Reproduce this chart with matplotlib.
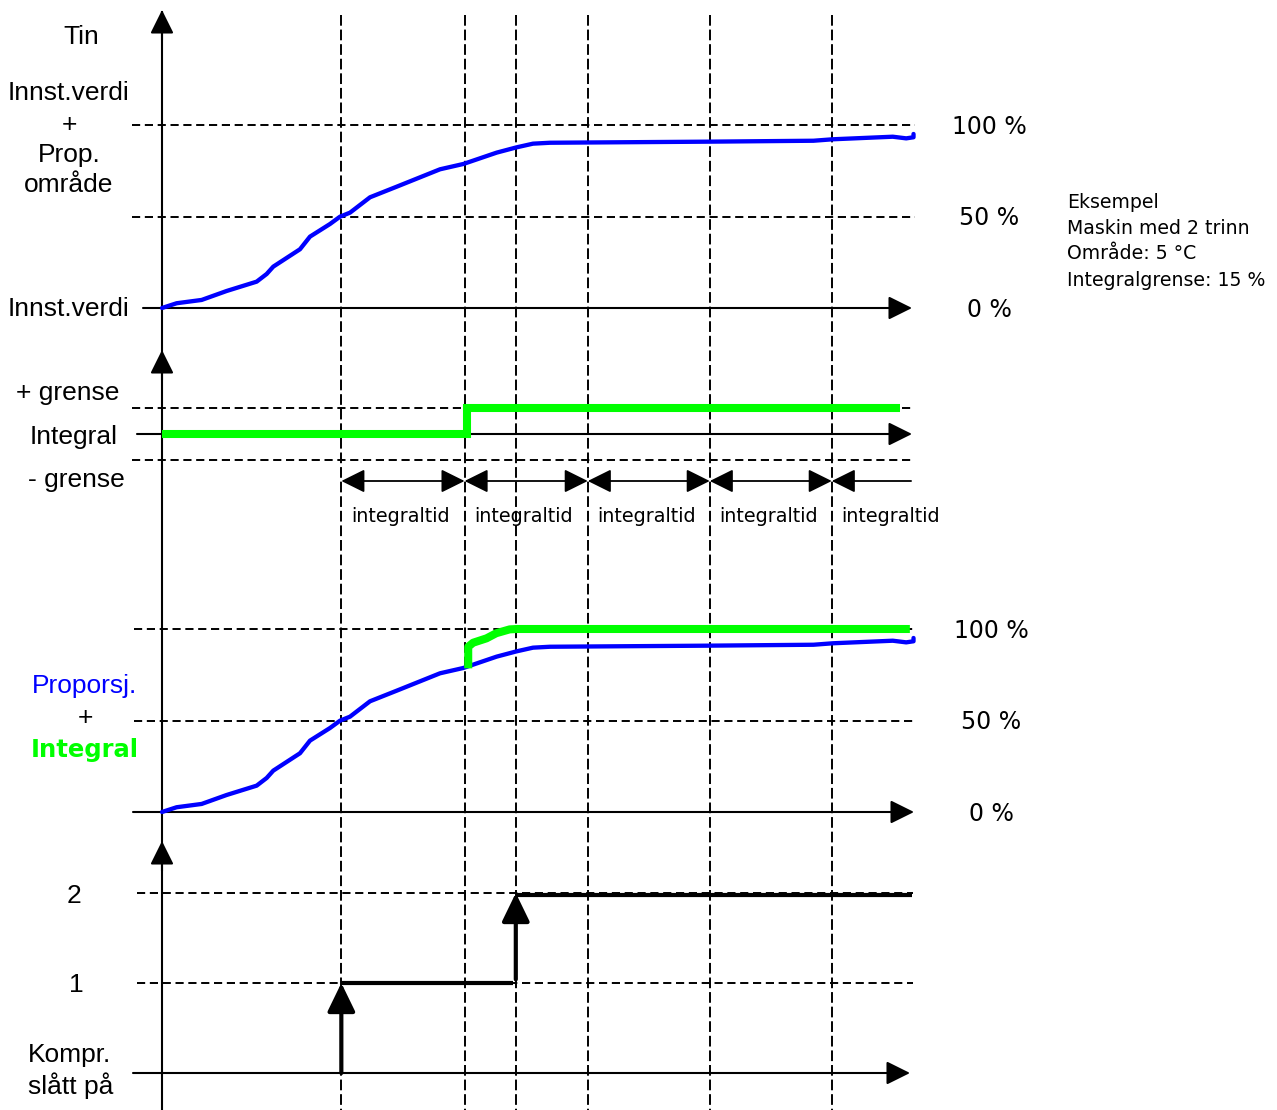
import matplotlib
matplotlib.use('Agg')
import matplotlib.pyplot as plt

# ---------------- data ----------------
# time axis: arbitrary units (1 integral time = 10 units)
marker_times = [14.7, 24.8, 29.0, 34.9, 44.9, 54.9]        # vertical dashed lines
integral_marks = [14.7, 24.8, 34.9, 44.9, 54.9]            # starts of integral periods
integral_last_end = 61.3
integral_label = "integraltid"

# proportional part (% of band) vs time
prop_t = [0.0, 1.2, 3.25, 5.3, 7.76, 8.58, 9.12, 11.31, 12.13, 13.77, 14.59,
          15.41, 17.05, 19.24, 22.79, 24.7, 27.43, 29.07, 30.41, 31.8, 44.9,
          53.4, 55.0, 59.9, 61.0, 61.6, 61.6]
prop_pct = [0, 2.6, 4.4, 9.3, 14.4, 18.6, 22.6, 32.1, 39.0, 45.9, 49.9,
            52.1, 60.5, 66.3, 75.8, 78.7, 84.9, 87.8, 89.8, 90.3, 90.9,
            91.4, 92.2, 93.6, 92.7, 93.3, 95.1]

# integral part (%) vs time, limit +/-15 %
integ_t = [0.0, 25.0, 25.0, 60.5]
integ_val = [0, 0, 15, 15]
integ_limit = 15

# proportional + integral (%) vs time
pi_t = [25.1, 25.1, 25.5, 26.6, 27.4, 28.5, 29.1, 61.3]
pi_pct = [78.5, 90.3, 92.5, 94.9, 97.7, 99.8, 100, 100]

# compressor stages
stage_on_t = [14.7, 29.0]
stage_levels = [1, 2]
stage_end = 61.5

pct_levels = [50, 100]
pct_labels = ["100 %", "50 %", "0 %"]
pct_label_vals = [100, 50, 0]

example_lines = ["Eksempel", "Maskin med 2 trinn", "Område: 5 °C",
                 "Integralgrense: 15 %"]

# ---------------- layout ----------------
W, H, DPI = 1277, 1110, 100
X0_PX, PX_PER_T = 162, 12.2


def t_of_px(px):
    return (px - X0_PX) / PX_PER_T


fig = plt.figure(figsize=(W / DPI, H / DPI), dpi=DPI)

bg = fig.add_axes([0, 0, 1, 1])
bg.set_xlim(t_of_px(0), t_of_px(W))
bg.set_ylim(H, 0)
bg.axis('off')


def make_ax(zero_px, px_per_unit):
    ax = fig.add_axes([0, 0, 1, 1])
    ax.set_xlim(t_of_px(0), t_of_px(W))
    ax.set_ylim((zero_px - H) / px_per_unit, zero_px / px_per_unit)
    ax.axis('off')
    ax.patch.set_alpha(0)
    return ax


ax1 = make_ax(308, 1.83)
ax2 = make_ax(434, 26 / 15)
ax3 = make_ax(812, 1.83)
ax4 = make_ax(1073, 90)

BLUE = '#0000ff'
GREEN = '#00ff00'
DASH_H = (0, (4.2, 2.4))
DASH_V = (0, (5.5, 2.0))
LW_AX = 1.5
LW_D = 1.4


def arrow(ax, xy_from, xy_to, style='-|>', lw=LW_AX, hl=1.35, hw=0.7, z=3):
    ax.annotate('', xy=xy_to, xytext=xy_from,
                arrowprops=dict(arrowstyle=f'{style},head_length={hl},head_width={hw}',
                                lw=lw, color='black', shrinkA=0, shrinkB=0,
                                mutation_scale=10),
                zorder=z, annotation_clip=False)


# vertical dashed time markers
bg.vlines(marker_times, 15, H, colors='black', linestyles=DASH_V, lw=LW_D, zorder=1)

# main y axis line + arrowheads
bg.plot([0, 0], [H, 12], color='black', lw=LW_AX, zorder=2)
for tip in [10, 350, 841]:
    arrow(bg, (0, tip + 30), (0, tip), hl=1.45, hw=0.72)

# ---- panel 1 : Tin ----
ax1.hlines(pct_levels, t_of_px(132), t_of_px(915), colors='black',
           linestyles=DASH_H, lw=LW_D, zorder=1)
arrow(ax1, (t_of_px(143), 0), (t_of_px(912), 0), hl=1.45, hw=0.72)
ax1.plot(prop_t, prop_pct, color=BLUE, lw=3.1, solid_capstyle='round',
         solid_joinstyle='round', zorder=4)
for lab, v in zip(pct_labels, pct_label_vals):
    ax1.text(t_of_px(989), v - 1.0, lab, ha='center', va='center', fontsize=17,
             family='DejaVu Sans')

# ---- panel 2 : Integral ----
ax2.hlines([integ_limit, -integ_limit], t_of_px(132), t_of_px(912), colors='black',
           linestyles=DASH_H, lw=LW_D, zorder=1)
arrow(ax2, (t_of_px(137), 0), (t_of_px(912), 0), hl=1.45, hw=0.72)
ax2.plot(integ_t, integ_val, color=GREEN, lw=5.8, solid_capstyle='butt',
         solid_joinstyle='miter', zorder=4)

# integral time arrows
y_int_px = 481
for a, b in zip(integral_marks[:-1], integral_marks[1:]):
    arrow(bg, (a, y_int_px), (b, y_int_px), style='<|-|>', lw=1.3, hl=1.45, hw=0.72)
arrow(bg, (integral_last_end + 0.1, y_int_px), (integral_marks[-1], y_int_px),
      lw=1.3, hl=1.45, hw=0.72)
for a in integral_marks:
    bg.text(a + 4.85, 517, integral_label, ha='center', va='center', fontsize=13.8,
            family='DejaVu Sans')

# ---- panel 3 : Proporsj. + Integral ----
ax3.hlines(pct_levels, t_of_px(134), t_of_px(915), colors='black',
           linestyles=DASH_H, lw=LW_D, zorder=1)
arrow(ax3, (t_of_px(133), 0), (t_of_px(914), 0), hl=1.45, hw=0.72)
ax3.plot(prop_t, prop_pct, color=BLUE, lw=3.1, solid_capstyle='round',
         solid_joinstyle='round', zorder=4)
ax3.plot(pi_t, pi_pct, color=GREEN, lw=5.8, solid_capstyle='butt', zorder=5)
for lab, v in zip(pct_labels, pct_label_vals):
    ax3.text(t_of_px(991), v - 1.0, lab, ha='center', va='center', fontsize=17,
             family='DejaVu Sans')

# ---- panel 4 : compressor stages ----
ax4.hlines(stage_levels, t_of_px(137), t_of_px(913), colors='black',
           linestyles=DASH_H, lw=LW_D, zorder=1)
arrow(ax4, (t_of_px(133), 0), (t_of_px(910), 0), hl=1.45, hw=0.72)
prev = 0
ends = stage_on_t[1:] + [stage_end]
for t_on, lvl, t_off in zip(stage_on_t, stage_levels, ends):
    arrow(ax4, (t_on, prev + 0.04 if prev else prev), (t_on, lvl), lw=3.0,
          hl=1.75, hw=0.85, z=5)
    ax4.plot([t_on, t_off - (0.2 if t_off != stage_end else 0)],
             [lvl - (0.02 if lvl == 2 else 0)] * 2,
             color='black', lw=3.0, solid_capstyle='butt', zorder=5)
    prev = lvl

# ---------------- labels ----------------
LF = dict(family='Liberation Sans', fontsize=19, ha='center', va='center')
left_labels = [
    ("Tin", 81, 37), ("Innst.verdi", 69, 93), ("+", 69, 125), ("Prop.", 69, 155),
    ("område", 69, 185), ("Innst.verdi", 69, 309), ("+ grense", 67.5, 393),
    ("Integral", 74, 437), ("- grense", 76.5, 480), ("+", 85, 718),
    ("2", 74, 896), ("1", 76, 985), ("Kompr.", 69.5, 1055), ("slått på", 70.5, 1086),
]
for s, xp, yp in left_labels:
    bg.text(t_of_px(xp), yp, s, **LF)
bg.text(t_of_px(85), 686, "Proporsj.", color=BLUE, **LF)
bg.text(t_of_px(85), 750, "Integral", color=GREEN, family='DejaVu Sans',
        fontweight='bold', fontsize=17.5, ha='center', va='center')

for i, s in enumerate(example_lines):
    bg.text(t_of_px(1067), [208, 234, 259, 286][i], s, ha='left', va='baseline',
            fontsize=13.6, family='DejaVu Sans')

fig.savefig('out.png', dpi=DPI)
